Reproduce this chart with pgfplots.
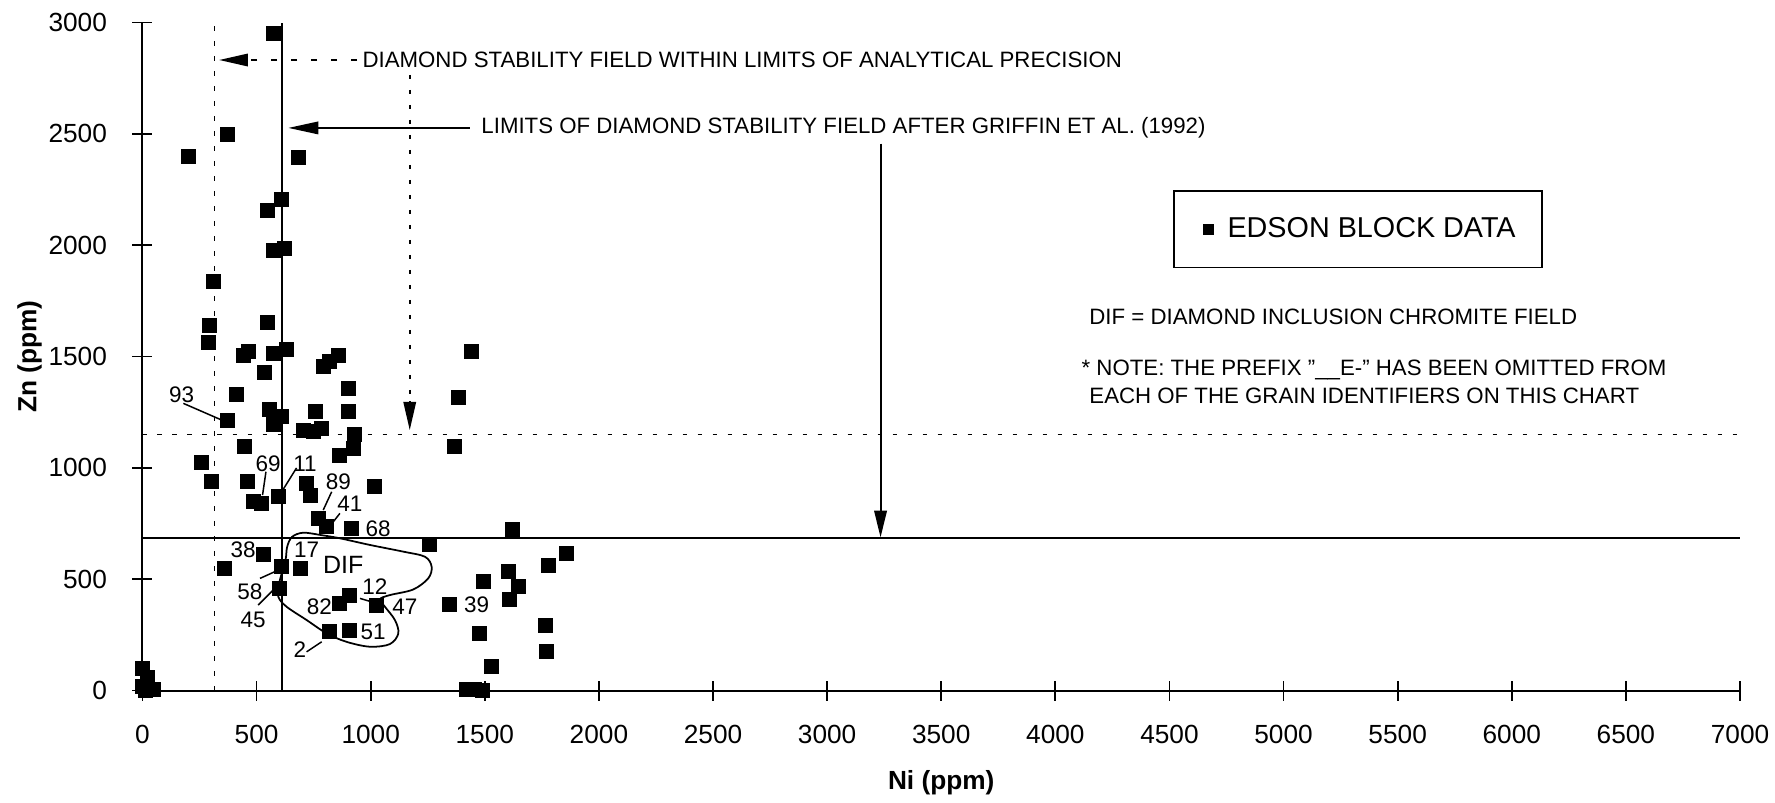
\documentclass[border=0pt]{standalone}
\usepackage{fontspec}
\setmainfont{Liberation Sans}
\usepackage{pgfplots}
\usepackage{pgfplotstable}
\pgfplotsset{compat=1.18}
\usetikzlibrary{arrows.meta}

\pgfplotstableread{
x y
576 2952
371 2498
202 2398
685 2395
609 2206
548 2155
573 1978
624 1986
313 1839
295 1638
291 1562
548 1655
441 1507
463 1522
573 1515
631 1530
792 1455
820 1477
858 1505
1442 1525
536 1429
412 1332
901 1357
1384 1317
373 1211
558 1263
609 1233
573 1193
760 1255
901 1255
704 1170
748 1163
785 1178
931 1148
923 1088
865 1058
1369 1095
446 1098
259 1023
303 938
459 938
485 848
522 841
595 871
719 931
734 878
1018 916
770 773
807 736
916 729
1622 724
1259 654
1858 616
1778 564
1603 534
1646 466
1493 489
1610 407
1347 387
529 609
361 549
609 556
694 549
602 459
865 392
909 429
1026 384
821 264
906 272
1476 257
1768 294
1771 174
1530 107
1420 5
1455 5
1490 0
0 100
20 60
0 20
50 5
15 0
}\edson

\begin{document}
\begin{tikzpicture}
\begin{axis}[
  at={(0pt,0pt)}, anchor=south west,
  scale only axis, width=639pt, height=267.2pt,
  xmin=0, xmax=7000, ymin=0, ymax=3000,
  axis lines*=left,
  axis line style={line width=0.8pt},
  xtick={0,500,...,7000}, ytick={0,500,...,3000},
  tick align=center, major tick length=8pt,
  tick style={line width=0.7pt, black},
  xticklabel style={yshift=-6.3pt},
  yticklabel style={xshift=-6.7pt},
  tick label style={font=\fontsize{10.5}{12}\selectfont},
  /pgf/number format/assume math mode=true,
  /pgf/number format/set thousands separator={},
  xlabel={Ni (ppm)}, ylabel={Zn (ppm)},
  label style={font=\fontsize{10.5}{12}\selectfont\bfseries},
  xlabel style={at={(axis description cs:0.5,-0.1385)}, anchor=center},
  ylabel style={at={(axis description cs:-0.0707,0.5)}, anchor=center, rotate=0},
  clip=false,
  legend style={at={(axis cs:5326,2072)}, anchor=center, draw=black, line width=0.7pt,
    font=\fontsize{11.5}{13}\selectfont, inner xsep=8.6pt, inner ysep=8.5pt},
  legend image code/.code={\path (-5pt,0pt) (5.2pt,0pt); \draw[black, fill=black, line width=0pt] (-2pt,-2pt) rectangle (2pt,2pt);},
]
\addplot[only marks, mark=square*, mark size=2.8pt, black] table {\edson};
\addlegendentry{EDSON BLOCK DATA}

% reference lines
\draw[line width=0.7pt, dash pattern=on 1.8pt off 4.2pt] (315,0) -- (315,3000);
\draw[line width=0.8pt] (610,0) -- (610,3000);
\draw[line width=0.7pt, dash pattern=on 1.8pt off 4.2pt] (0,1150) -- (7000,1150);
\draw[line width=0.8pt] (0,685) -- (7000,685);

% arrows
\draw[line width=0.7pt, dash pattern=on 2.5pt off 5.5pt] (940,2832) -- (450,2832);
\draw[line width=0.7pt, -{Triangle[length=11.5pt,width=5pt]}] (460,2832) -- (336,2832);
\draw[line width=0.7pt, -{Triangle[length=12pt,width=5pt]}] (1435,2527) -- (639,2527);
\draw[line width=0.7pt, dash pattern=on 1.8pt off 4.2pt] (1171,2765) -- (1171,1300);
\draw[line width=0.7pt, -{Triangle[length=11.3pt,width=5pt]}] (1171,1300) -- (1171,1170);
\draw[line width=0.8pt, -{Triangle[length=10.7pt,width=5pt]}] (3234,2456) -- (3234,688);

% annotation text
\begin{scope}[every node/.style={font=\fontsize{8.9}{10}\selectfont, inner sep=0pt}]
\node[anchor=west] at (962,2832) {DIAMOND STABILITY FIELD WITHIN LIMITS OF ANALYTICAL PRECISION};
\node[anchor=west] at (1483,2527) {LIMITS OF DIAMOND STABILITY FIELD AFTER GRIFFIN ET AL. (1992)};
\node[anchor=west] at (4147,1678) {DIF = DIAMOND INCLUSION CHROMITE FIELD};
\node[anchor=west] at (4113,1439) {* NOTE: THE PREFIX "\_\_E-" HAS BEEN OMITTED FROM};
\node[anchor=west] at (4147,1322) {EACH OF THE GRAIN IDENTIFIERS ON THIS CHART};
\end{scope}

% DIF field
\draw[line width=0.7pt] plot[smooth cycle, tension=0.55] coordinates {
 (785,698) (704,709) (655,690) (634,646) (628,594) (614,541) (599,481) (595,422)
 (631,377) (719,317) (807,257) (894,219) (997,197) (1084,209) (1121,257) (1106,317)
 (1062,377) (1040,410) (1084,429) (1186,454) (1252,504) (1267,556) (1238,601)
 (1143,624) (997,654) (865,684)};

% labels
\begin{scope}[every node/.style={font=\fontsize{9}{10}\selectfont, inner sep=0pt}]
\node at (171,1327) {93};
\node at (551,1020) {69};
\node at (712,1020) {11};
\node at (858,938) {89};
\node at (909,841) {41};
\node at (1033,729) {68};
\node at (441,631) {38};
\node at (719,631) {17};
\node[font=\fontsize{10}{11}\selectfont] at (880,564) {DIF};
\node at (471,444) {58};
\node at (485,317) {45};
\node at (775,377) {82};
\node at (1018,467) {12};
\node at (1150,377) {47};
\node at (1464,384) {39};
\node at (1011,264) {51};
\node at (690,182) {2};
\end{scope}

% leader lines
\begin{scope}[line width=0.6pt]
\draw (179,1290) -- (347,1215);
\draw (541,983) -- (526,878);
\draw (675,1000) -- (610,893);
\draw (829,893) -- (792,811);
\draw (865,796) -- (836,758);
\draw (515,504) -- (595,541);
\draw (507,384) -- (573,452);
\draw (719,174) -- (785,219);
\draw (953,414) -- (1026,392);
\end{scope}
\end{axis}
\pgfresetboundingbox
\path (-57pt,-44.6pt) rectangle (653pt,276.24pt);
\end{tikzpicture}
\end{document}
